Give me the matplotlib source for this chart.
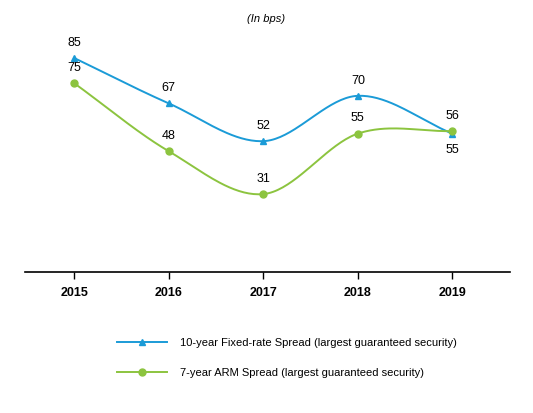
import matplotlib
matplotlib.use('Agg')
import matplotlib.pyplot as plt
import numpy as np

plt.rcParams['font.family'] = ['Liberation Sans', 'DejaVu Sans']

years = [2015, 2016, 2017, 2018, 2019]
fixed = [85, 67, 52, 70, 55]
arm = [75, 48, 31, 55, 56]
fixed_label = '10-year Fixed-rate Spread (largest guaranteed security)'
arm_label = '7-year ARM Spread (largest guaranteed security)'
blue = '#1b9bd7'
green = '#8cc43f'


def smooth(x, y, n=40):
    # Catmull-Rom spline through the points
    x = np.asarray(x, float); y = np.asarray(y, float)
    px = np.concatenate([[2 * x[0] - x[1]], x, [2 * x[-1] - x[-2]]])
    py = np.concatenate([[2 * y[0] - y[1]], y, [2 * y[-1] - y[-2]]])
    xs, ys = [], []
    for i in range(1, len(px) - 2):
        t = np.linspace(0, 1, n)
        for p, out in ((px, xs), (py, ys)):
            p0, p1, p2, p3 = p[i - 1], p[i], p[i + 1], p[i + 2]
            out.extend(0.5 * (2 * p1 + (-p0 + p2) * t + (2 * p0 - 5 * p1 + 4 * p2 - p3) * t**2
                              + (-p0 + 3 * p1 - 3 * p2 + p3) * t**3))
    return xs, ys


fig = plt.figure(figsize=(5.33, 4.13), dpi=100)
ax = fig.add_axes([0.047, 0.341, 0.91, 0.61])

for vals, col, mk, lab in ((fixed, blue, '^', fixed_label), (arm, green, 'o', arm_label)):
    sx, sy = smooth(years, vals)
    ax.plot(sx, sy, color=col, lw=1.4)
    ax.plot(years, vals, color=col, lw=1.4, marker=mk, ms=5, ls='none')
    ax.plot([], [], color=col, lw=1.4, marker=mk, ms=5, label=lab)

for y, f, a in zip(years, fixed, arm):
    fo = -12 if y == 2019 else 11
    ax.annotate(str(f), (y, f), xytext=(0, fo), textcoords='offset points', ha='center', va='center', fontsize=9)
    ax.annotate(str(a), (y, a), xytext=(0, 11), textcoords='offset points', ha='center', va='center', fontsize=9)

ax.set_xlim(2015 - 0.52, 2019 + 0.61)
ax.set_ylim(0, 100)
ax.set_yticks([])
ax.set_xticks(years)
ax.set_xticklabels([str(y) for y in years], fontweight='bold', fontsize=9)
ax.tick_params(axis='x', length=5, width=1, pad=6)
for s in ('top', 'right', 'left'):
    ax.spines[s].set_visible(False)
ax.spines['bottom'].set_linewidth(1.2)

fig.text(0.5, 0.955, '(In bps)', ha='center', va='center', fontsize=8, style='italic')
fig.legend(loc='upper left', bbox_to_anchor=(0.2, 0.205), frameon=False, fontsize=8,
           handlelength=4.5, labelspacing=1.8, handletextpad=1.2)

fig.savefig('out.png', dpi=100)
